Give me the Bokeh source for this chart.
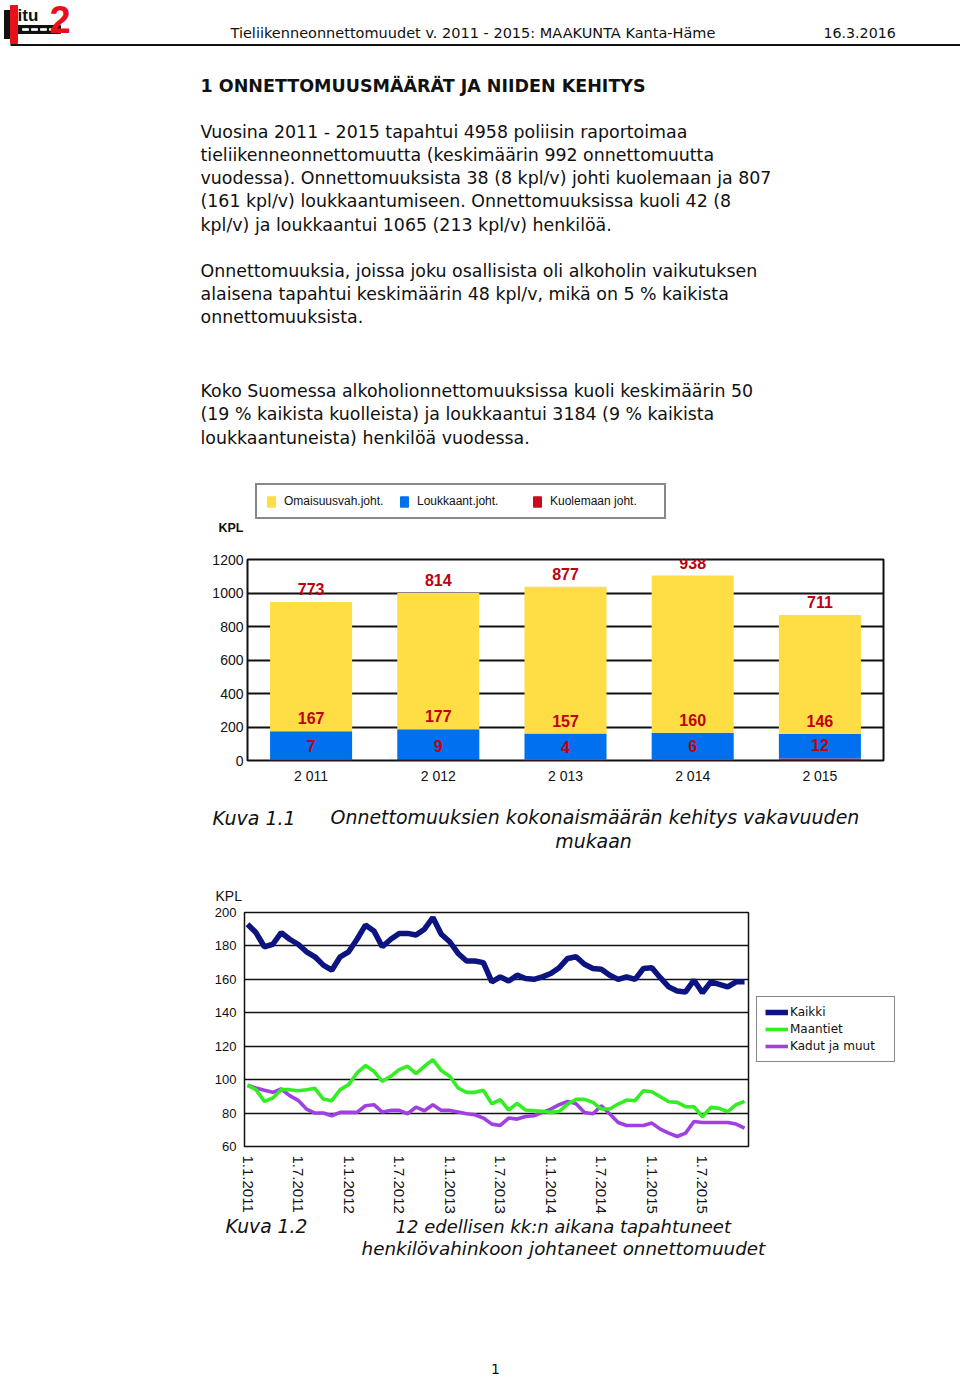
from bokeh.plotting import figure
from bokeh.models import (Range1d, FactorRange, ColumnDataSource, LabelSet,
                          Legend, LegendItem, FixedTicker)
from bokeh.embed import file_html
from bokeh.resources import INLINE
from bokeh.core.properties import value

# ---------------- data ----------------
years = ["2 011", "2 012", "2 013", "2 014", "2 015"]
kuolemaan = [7, 9, 4, 6, 12]
loukkaant = [167, 177, 157, 160, 146]
omaisuus = [773, 814, 877, 938, 711]
bar_series_names = ["Omaisuusvah.joht.", "Loukkaant.joht.", "Kuolemaan joht."]
bar_yticks = [0, 200, 400, 600, 800, 1000, 1200]

months = list(range(60))
kaikki = [193, 188, 179.5, 181, 188, 184, 181, 176.5, 173.5, 168.5, 165.5, 173.5, 176.5, 184,
          192.5, 189, 179.5, 184, 187.5, 187.5, 186.5, 190, 197, 187, 182.5, 175.5, 171, 171,
          170, 158.5, 161.5, 159, 162.5, 160.5, 160, 161.5, 163.5, 167, 172.5, 173.5, 169,
          166.5, 166, 162.5, 160, 161.5, 160, 166.5, 167, 161, 155.5, 153, 152.5, 159.5, 152,
          158.5, 157, 155.5, 158.5, 158.5]
maantiet = [96.6, 94, 87, 89, 94, 94, 93.4, 94, 94.8, 88.4, 87.4, 94, 97, 104, 108.4, 105, 99,
            102, 106, 108, 103.6, 108, 112, 105.4, 102, 95, 92.4, 92.4, 93.6, 85.5, 88, 81.8,
            85.8, 81.8, 81.4, 81, 80.4, 81, 85.4, 88.2, 88.2, 86.4, 82.4, 82.4, 85.4, 87.8,
            87.4, 93.4, 92.8, 89.8, 86.8, 86.4, 83.8, 83.8, 77.8, 83.4, 82.8, 80.8, 85, 87]
kadut = [96.6, 95, 93.6, 92.4, 94.4, 90.4, 87.6, 82.4, 80, 80, 78.4, 80.4, 80.4, 80.4, 84.4,
         85, 80.6, 81.6, 81.6, 79.6, 83.6, 81.4, 85, 81.6, 81.6, 80.6, 79.6, 79, 77, 73.4,
         72.6, 77, 76.4, 78, 78.4, 80.4, 82.4, 85, 87, 85.6, 80.4, 79.6, 84.4, 79.4, 74.4,
         72.6, 72.6, 72.6, 74, 70.4, 68, 66, 68, 75, 74.4, 74.4, 74.4, 74.4, 73.4, 71]
line_series_names = ["Kaikki", "Maantiet", "Kadut ja muut"]
line_tick_pos = [0, 6, 12, 18, 24, 30, 36, 42, 48, 54]
line_tick_labels = ["1.1.2011", "1.7.2011", "1.1.2012", "1.7.2012", "1.1.2013",
                    "1.7.2013", "1.1.2014", "1.7.2014", "1.1.2015", "1.7.2015"]
line_yticks = [60, 80, 100, 120, 140, 160, 180, 200]

header_title = "Tieliikenneonnettomuudet v. 2011 - 2015: MAAKUNTA Kanta-Häme"
header_date = "16.3.2016"
section_title = "1 ONNETTOMUUSMÄÄRÄT JA NIIDEN KEHITYS"
body_lines = [
    "Vuosina 2011 - 2015 tapahtui 4958 poliisin raportoimaa",
    "tieliikenneonnettomuutta (keskimäärin 992 onnettomuutta",
    "vuodessa). Onnettomuuksista 38 (8 kpl/v) johti kuolemaan ja 807",
    "(161 kpl/v) loukkaantumiseen. Onnettomuuksissa kuoli 42 (8",
    "kpl/v) ja loukkaantui 1065 (213  kpl/v) henkilöä.",
    "Onnettomuuksia, joissa joku osallisista oli alkoholin vaikutuksen",
    "alaisena tapahtui keskimäärin 48 kpl/v, mikä on 5 % kaikista",
    "onnettomuuksista.",
    "Koko Suomessa alkoholionnettomuuksissa kuoli keskimäärin 50",
    "(19 % kaikista kuolleista) ja loukkaantui 3184 (9 % kaikista",
    "loukkaantuneista) henkilöä vuodessa.",
]
body_y = [131, 154, 177, 200, 224, 270, 293, 316, 390, 413, 437]
caption1 = ["Kuva 1.1", "Onnettomuuksien kokonaismäärän kehitys vakavuuden", "mukaan"]
caption2 = ["Kuva 1.2", "12 edellisen kk:n aikana tapahtuneet",
            "henkilövahinkoon johtaneet onnettomuudet"]
axis_unit = "KPL"
page_number = "1"

YELLOW = "#FFDD44"
BLUE = "#0070EE"
RED = "#CC0A1E"
LABEL_RED = "#C00010"
NAVY = "#0B1480"
GREEN = "#33EE22"
PURPLE = "#A040E0"
INK = "#111111"
LOGO_RED = "#E8101A"
VERDANA = value("DejaVu Sans")
ARIAL = value("Liberation Sans")
NAN = float("nan")


def text_fig(h):
    f = figure(width=960, height=h, x_range=Range1d(0, 960), y_range=Range1d(h, 0),
               x_axis_location=None, y_axis_location=None, output_backend="svg",
               toolbar_location=None, min_border=0)
    f.grid.visible = False
    f.outline_line_color = None
    return f


def plain_axis(ax, size):
    ax.axis_line_color = None
    ax.major_tick_line_color = None
    ax.minor_tick_line_color = None
    ax.major_tick_out = 0
    ax.major_tick_in = 0
    ax.minor_tick_out = 0
    ax.minor_tick_in = 0
    ax.major_label_text_font = "Liberation Sans"
    ax.major_label_text_font_size = size
    ax.major_label_text_color = INK


# ---------------- page top (0..545) ----------------
pa = text_fig(545)
# logo
pa.quad(left=[4, 4, 17], right=[10, 12, 60], top=[10, 32, 25], bottom=[38, 38, 33], color=INK)
pa.quad(left=[10], right=[17], top=[5], bottom=[43], color=LOGO_RED)
pa.quad(left=[22, 31, 40, 49], right=[28, 37, 46, 55], top=[28.2] * 4, bottom=[29.8] * 4,
        color="white")
pa.text(x=[17], y=[15], text=["itu"], text_font=ARIAL, text_font_style="bold",
        text_font_size="17px", text_baseline="middle", text_color=INK)
pa.text(x=[49], y=[19], text=["2"], text_font=ARIAL, text_font_style="bold",
        text_font_size="38px", text_baseline="middle", text_color=LOGO_RED)

pa.text(x=[230], y=[32], text=[header_title], text_font=VERDANA, text_font_size="14.5px",
        text_baseline="middle", text_color=INK)
pa.text(x=[823], y=[32], text=[header_date], text_font=VERDANA, text_font_size="14.2px",
        text_baseline="middle", text_color=INK)
pa.line(x=[10, 960], y=[44.5, 44.5], line_color=INK, line_width=2.2)

pa.text(x=[200], y=[85], text=[section_title], text_font=VERDANA, text_font_style="bold",
        text_font_size="17.5px", text_baseline="middle", text_color=INK)
pa.text(x=[200] * len(body_lines), y=body_y, text=body_lines, text_font=VERDANA,
        text_font_size="17.4px", text_baseline="middle", text_color=INK)

# legend of the bar chart (swatches share the bar colours; no visible data)
sw = [pa.quad(left=[NAN], right=[NAN], top=[NAN], bottom=[NAN], color=c)
      for c in (YELLOW, BLUE, RED)]
bleg = Legend(items=[LegendItem(label=n, renderers=[r]) for n, r in zip(bar_series_names, sw)],
              orientation="horizontal", location=(255, 26), padding=9, spacing=10,
              glyph_width=10, glyph_height=13, label_height=13, label_width=105,
              label_standoff=8, label_text_font="Liberation Sans",
              label_text_font_size="12px", label_text_color=INK,
              border_line_color=INK, border_line_width=2,
              background_fill_color="white", background_fill_alpha=1.0, margin=0)
pa.add_layout(bleg)
pa.text(x=[218], y=[527], text=[axis_unit], text_font=ARIAL, text_font_style="bold",
        text_font_size="12.5px", text_baseline="middle", text_color=INK)

# ---------------- bar chart (545..800) ----------------
c_kuol = list(kuolemaan)
c_louk = [a + b for a, b in zip(kuolemaan, loukkaant)]
c_tot = [a + b + c for a, b, c in zip(kuolemaan, loukkaant, omaisuus)]
bsrc = ColumnDataSource(dict(
    year=years, kuol=kuolemaan, louk=loukkaant, omai=omaisuus,
    c_kuol=c_kuol, c_louk=c_louk, c_tot=c_tot,
    t_kuol=[str(v) for v in kuolemaan], t_louk=[str(v) for v in loukkaant],
    t_omai=[str(v) for v in omaisuus]))

pb = figure(width=960, height=255, x_range=FactorRange(*years), y_range=Range1d(0, 1200),
            output_backend="svg", toolbar_location=None,
            min_border_left=247, min_border_right=77, min_border_top=14, min_border_bottom=40)
rs = pb.vbar_stack(["kuol", "louk", "omai"], x="year", width=0.645,
                   color=[RED, BLUE, YELLOW], line_color=None, source=bsrc)
pb.outline_line_color = INK
pb.outline_line_width = 2
pb.xgrid.visible = False
pb.ygrid.ticker = FixedTicker(ticks=bar_yticks)
pb.ygrid.grid_line_color = INK
pb.ygrid.grid_line_width = 2
pb.yaxis.ticker = FixedTicker(ticks=bar_yticks)
plain_axis(pb.xaxis[0], "14px")
plain_axis(pb.yaxis[0], "14px")
pb.yaxis.major_label_standoff = 4
pb.xaxis.major_label_standoff = 7

for ycol, tcol in (("c_tot", "t_omai"), ("c_louk", "t_louk"), ("c_kuol", "t_kuol")):
    pb.add_layout(LabelSet(x="year", y=ycol, text=tcol, source=bsrc, y_offset=13,
                           text_align="center", text_baseline="middle",
                           text_font=ARIAL, text_font_style="bold", text_font_size="16px",
                           text_color=LABEL_RED))

# ---------------- middle text (800..905) ----------------
pm = text_fig(105)
pm.text(x=[212], y=[17], text=[caption1[0]], text_font=VERDANA, text_font_style="italic",
        text_font_size="19px", text_baseline="middle", text_color=INK)
pm.text(x=[330], y=[16], text=[caption1[1]], text_font=VERDANA, text_font_style="italic",
        text_font_size="18.95px", text_baseline="middle", text_color=INK)
pm.text(x=[593], y=[40], text=[caption1[2]], text_font=VERDANA, text_font_style="italic",
        text_font_size="18.95px", text_align="center", text_baseline="middle", text_color=INK)
pm.text(x=[215], y=[95], text=[axis_unit], text_font=ARIAL, text_font_size="14px",
        text_baseline="middle", text_color=INK)

# ---------------- line chart (905..1216) ----------------
lsrc = ColumnDataSource(dict(m=months, kaikki=kaikki, maantiet=maantiet, kadut=kadut))
pc = figure(frame_width=504, frame_height=234, x_range=Range1d(-0.36, 59.47),
            y_range=Range1d(60, 200), output_backend="svg", toolbar_location=None,
            min_border_left=244, min_border_right=0, min_border_top=7, min_border_bottom=70)
r_kadut = pc.line("m", "kadut", source=lsrc, line_color=PURPLE, line_width=3.6)
r_maan = pc.line("m", "maantiet", source=lsrc, line_color=GREEN, line_width=3.6)
r_kaikki = pc.line("m", "kaikki", source=lsrc, line_color=NAVY, line_width=5.5)
pc.outline_line_color = INK
pc.outline_line_width = 1.5
pc.xgrid.visible = False
pc.ygrid.ticker = FixedTicker(ticks=line_yticks)
pc.ygrid.grid_line_color = INK
pc.ygrid.grid_line_width = 1.6
pc.yaxis.ticker = FixedTicker(ticks=line_yticks)
pc.xaxis.ticker = FixedTicker(ticks=line_tick_pos)
pc.xaxis.major_label_overrides = dict(zip(line_tick_pos, line_tick_labels))
pc.xaxis.major_label_orientation = "vertical"
plain_axis(pc.xaxis[0], "15px")
plain_axis(pc.yaxis[0], "13px")
pc.yaxis.major_label_standoff = 8
pc.xaxis.major_label_standoff = 9

lleg = Legend(items=[LegendItem(label=line_series_names[0], renderers=[r_kaikki]),
                     LegendItem(label=line_series_names[1], renderers=[r_maan]),
                     LegendItem(label=line_series_names[2], renderers=[r_kadut])],
              location="center_left", padding=8, spacing=3, glyph_width=23, glyph_height=14,
              label_height=14, label_width=96, label_standoff=2,
              label_text_font="DejaVu Sans", label_text_font_size="12px",
              label_text_color=INK, border_line_color=INK,
              border_line_width=1.5, background_fill_color="white",
              background_fill_alpha=1.0, margin=8)
pc.add_layout(lleg, "right")

# ---------------- bottom text (1216..1377) ----------------
pe = text_fig(161)
pe.text(x=[225], y=[10], text=[caption2[0]], text_font=VERDANA, text_font_style="italic",
        text_font_size="18.7px", text_baseline="middle", text_color=INK)
pe.text(x=[395], y=[10], text=[caption2[1]], text_font=VERDANA, text_font_style="italic",
        text_font_size="18.0px", text_baseline="middle", text_color=INK)
pe.text(x=[361], y=[32], text=[caption2[2]], text_font=VERDANA, text_font_style="italic",
        text_font_size="18.35px", text_baseline="middle", text_color=INK)
pe.text(x=[495], y=[152], text=[page_number], text_font=VERDANA, text_font_size="14px",
        text_align="center", text_baseline="middle", text_color=INK)

open("out.html", "w").write(file_html([pa, pb, pm, pc, pe], INLINE))
